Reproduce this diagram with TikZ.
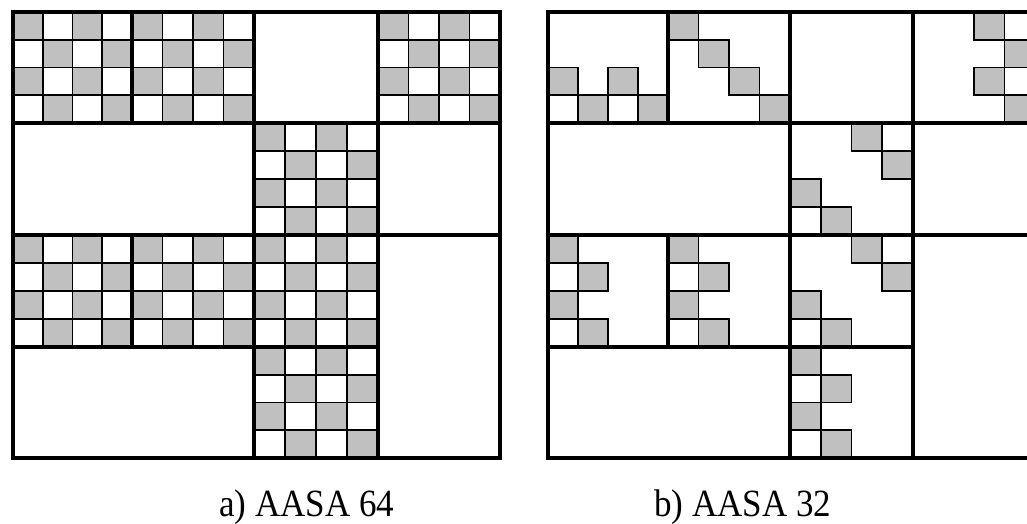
\documentclass[tikz,border=0pt]{standalone}
\usepackage{fontspec}
\usepackage{graphicx}
\setmainfont{Liberation Serif}
\definecolor{cellgray}{HTML}{C0C0C0}
\tikzset{
  frame/.style={line width=4.2pt, line cap=rect},
  cellline/.style={draw=black, line width=1.8pt},
  caption/.style={font=\fontsize{35}{40}\selectfont, inner sep=0pt, anchor=base west}
}
% one cell of a 4x4 block: {fill}{x0}{y0}{x1}{y1}{col}{row}
\newcommand\blockcell[7]{%
  \path[cellline, fill=#1]
    ({#2+(#4-#2)*(#6)/4},{#3+(#5-#3)*(#7)/4}) rectangle
    ({#2+(#4-#2)*(#6+1)/4},{#3+(#5-#3)*(#7+1)/4});}
% full checkerboard block: {x0}{y0}{x1}{y1}
\newcommand\checkerblock[4]{%
  \foreach \rr in {0,...,3}{\foreach \cc in {0,...,3}{%
    \pgfmathtruncatemacro\pty{mod(\rr+\cc,2)}%
    \ifnum\pty=0 \blockcell{cellgray}{#1}{#2}{#3}{#4}{\cc}{\rr}%
    \else \blockcell{white}{#1}{#2}{#3}{#4}{\cc}{\rr}\fi}}}
% sparse block: {x0}{y0}{x1}{y1}{list of col/row/fill}
\newcommand\sparseblock[5]{%
  \foreach \cc/\rr/\ff in {#5}{\blockcell{\ff}{#1}{#2}{#3}{#4}{\cc}{\rr}}}
% block outline layout of one grid: {x0}{x1}{x2}{x3}{x4}{y0}{y1}{y2}{y3}{y4}
\newcommand\gridframe[9]{\def\gA{#1}\def\gB{#2}\def\gC{#3}\def\gD{#4}\def\gE{#5}%
  \def\hA{#6}\def\hB{#7}\def\hC{#8}\def\hD{#9}\gridframeC}
\newcommand\gridframeC[1]{%
  \draw[frame] (\gA,\hA) rectangle (\gE,#1);
  \draw[frame] (\gA,\hB) -- (\gE,\hB);
  \draw[frame] (\gA,\hC) -- (\gE,\hC);
  \draw[frame] (\gA,\hD) -- (\gD,\hD);
  \draw[frame] (\gB,\hA) -- (\gB,\hB);
  \draw[frame] (\gB,\hC) -- (\gB,\hD);
  \draw[frame] (\gC,\hA) -- (\gC,#1);
  \draw[frame] (\gD,\hA) -- (\gD,#1);}
\begin{document}
\begin{tikzpicture}[x=1pt,y=-1pt]
\useasboundingbox (0,0) rectangle (1027,524);
\clip (0,0) rectangle (1027,524);
\fill[white] (0,0) rectangle (1027,524);

% ---- a) AASA 64 : full checkerboards ----
\checkerblock{13}{12}{132}{123}
\checkerblock{132}{12}{254}{123}
\checkerblock{378}{12}{500}{123}
\checkerblock{254}{123}{378}{235}
\checkerblock{13}{235}{132}{347}
\checkerblock{132}{235}{254}{347}
\checkerblock{254}{235}{378}{347}
\checkerblock{254}{347}{378}{458}
\gridframe{13}{132}{254}{378}{500}{12}{123}{235}{347}{458}

% ---- b) AASA 32 : sparse patterns ----
\sparseblock{548}{12}{668}{123}{0/2/cellgray,2/2/cellgray,0/3/white,1/3/cellgray,2/3/white,3/3/cellgray}
\sparseblock{668}{12}{790}{123}{0/0/cellgray,1/1/cellgray,2/2/cellgray,3/3/cellgray}
\sparseblock{913}{12}{1035}{123}{2/0/cellgray,3/0/white,3/1/cellgray,2/2/cellgray,3/2/white,3/3/cellgray}
\sparseblock{790}{123}{913}{235}{2/0/cellgray,3/0/white,3/1/cellgray,0/2/cellgray,0/3/white,1/3/cellgray}
\sparseblock{790}{235}{913}{347}{2/0/cellgray,3/0/white,3/1/cellgray,0/2/cellgray,0/3/white,1/3/cellgray}
\sparseblock{548}{235}{668}{347}{0/0/cellgray,0/1/white,1/1/cellgray,0/2/cellgray,0/3/white,1/3/cellgray}
\sparseblock{668}{235}{790}{347}{0/0/cellgray,0/1/white,1/1/cellgray,0/2/cellgray,0/3/white,1/3/cellgray}
\sparseblock{790}{347}{913}{458}{0/0/cellgray,0/1/white,1/1/cellgray,0/2/cellgray,0/3/white,1/3/cellgray}
\gridframe{548}{668}{790}{913}{1035}{12}{123}{235}{347}{458}

% ---- captions ----
\node[caption] (capA) at (219,516) {\scalebox{1}[1.1]{a) AASA 64}};
\node[caption] (capB) at (654,516) {\scalebox{1}[1.1]{b) AASA 32}};
\end{tikzpicture}
\end{document}
